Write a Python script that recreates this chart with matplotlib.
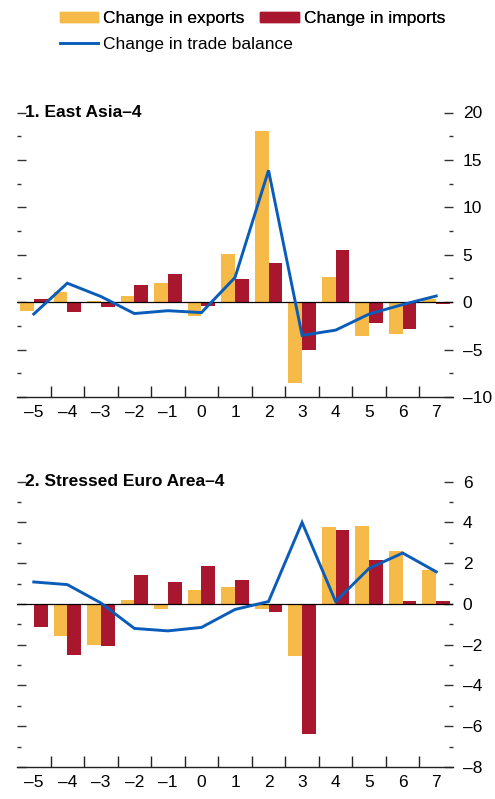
import matplotlib
matplotlib.use("Agg")
import matplotlib.pyplot as plt
import numpy as np
from matplotlib.patches import Patch
from matplotlib.lines import Line2D
from matplotlib.ticker import MultipleLocator, FixedLocator

plt.rcParams['font.family'] = ['Liberation Sans', 'DejaVu Sans']

years = [-5, -4, -3, -2, -1, 0, 1, 2, 3, 4, 5, 6, 7]

ea_exports = [-0.9, 1.05, 0.1, 0.65, 2.0, -1.5, 5.1, 18.0, -8.5, 2.65, -3.6, -3.4, 0.35]
ea_imports = [0.35, -1.0, -0.5, 1.8, 3.0, -0.45, 2.4, 4.1, -5.0, 5.5, -2.2, -2.85, -0.2]
ea_balance = [-1.25, 2.0, 0.6, -1.2, -0.9, -1.1, 2.6, 13.9, -3.5, -2.95, -1.25, -0.25, 0.65]

se_exports = [-0.05, -1.57, -2.0, 0.18, -0.25, 0.67, 0.82, -0.25, -2.55, 3.77, 3.82, 2.6, 1.67]
se_imports = [-1.12, -2.5, -2.05, 1.4, 1.06, 1.85, 1.16, -0.4, -6.4, 3.62, 2.15, 0.15, 0.15]
se_balance = [1.08, 0.95, 0.05, -1.2, -1.32, -1.15, -0.27, 0.12, 4.0, 0.12, 1.75, 2.5, 1.58]

titles = ["1. East Asia\u20134", "2. Stressed Euro Area\u20134"]

C_EXP = '#F5BA47'
C_IMP = '#A8172D'
C_BAL = '#0A5CBA'

W, H = 495, 799
fig = plt.figure(figsize=(W / 100, H / 100), dpi=100)

def box(l, r, t, b):
    return [l / W, 1 - b / H, (r - l) / W, (b - t) / H]

panels = [
    dict(rect=box(17, 453, 112.5, 397), ylim=(-10, 20), major=5, exp=ea_exports, imp=ea_imports, bal=ea_balance, title=titles[0]),
    dict(rect=box(17, 453, 481.7, 767), ylim=(-8, 6), major=2, exp=se_exports, imp=se_imports, bal=se_balance, title=titles[1]),
]

bw = 0.41
x = np.array(years, dtype=float)
for p in panels:
    ax = fig.add_axes(p['rect'])
    ax.bar(x - bw / 2, p['exp'], width=bw, color=C_EXP, zorder=2)
    ax.bar(x + bw / 2, p['imp'], width=bw, color=C_IMP, zorder=2)
    ax.axhline(0, color='black', lw=0.9, zorder=3)
    ax.plot(x, p['bal'], color=C_BAL, lw=2.1, zorder=4, solid_joinstyle='miter')
    ax.set_xlim(-5.5, 7.5)
    ax.set_ylim(*p['ylim'])
    for s in ['top', 'left', 'right']:
        ax.spines[s].set_visible(False)
    ax.spines['bottom'].set_color('#222222')
    ax.spines['bottom'].set_linewidth(1.0)
    ax.spines['bottom'].set_zorder(5)
    ax.xaxis.set_major_locator(FixedLocator(years))
    ax.set_xticklabels([str(y).replace('-', '\u2013') for y in years])
    ax.xaxis.set_minor_locator(FixedLocator(np.arange(-4.5, 7.0, 1.0)))
    ax.tick_params(axis='x', which='major', length=0, pad=6, labelsize=12.5)
    ax.tick_params(axis='x', which='minor', direction='in', length=8, width=1.0, color='#222222')
    ax.yaxis.set_major_locator(MultipleLocator(p['major']))
    ax.yaxis.set_minor_locator(MultipleLocator(p['major'] / 2))
    ax.yaxis.tick_right()
    ax.tick_params(axis='y', which='both', left=True, right=True, direction='in',
                   labelleft=False, labelright=True, labelsize=12.5, color='#333333', pad=7)
    ax.tick_params(axis='y', which='major', length=6.5, width=1.0)
    ax.tick_params(axis='y', which='minor', length=3, width=1.0)
    yt = np.arange(p['ylim'][0], p['ylim'][1] + 0.1, p['major'])
    ax.set_yticks(yt)
    ax.set_yticklabels([str(int(v)).replace('-', '\u2013') for v in yt])
    ax.set_facecolor('none')
    top_px = (1 - (p['rect'][1] + p['rect'][3])) * H
    fig.text(25 / W, 1 - top_px / H, p['title'], fontsize=12.5, fontweight='bold',
             ha='left', va='center')

leg_kw = dict(frameon=False, fontsize=12.5, handlelength=2.2, handleheight=0.55,
              handletextpad=0.3, columnspacing=0.9, borderpad=0, borderaxespad=0,
              loc='upper left')
h1 = [Patch(color=C_EXP, label='Change in exports'),
      Patch(color=C_IMP, label='Change in imports')]
leg1 = fig.legend(handles=h1, ncol=2, bbox_to_anchor=(60 / W, 1 - 11 / H), **leg_kw)
fig.add_artist(leg1)
h2 = [Line2D([], [], color=C_BAL, lw=2.1, label='Change in trade balance')]
fig.legend(handles=h2, ncol=1, bbox_to_anchor=(60 / W, 1 - 37 / H), **leg_kw)

fig.savefig('out.png', dpi=100)
